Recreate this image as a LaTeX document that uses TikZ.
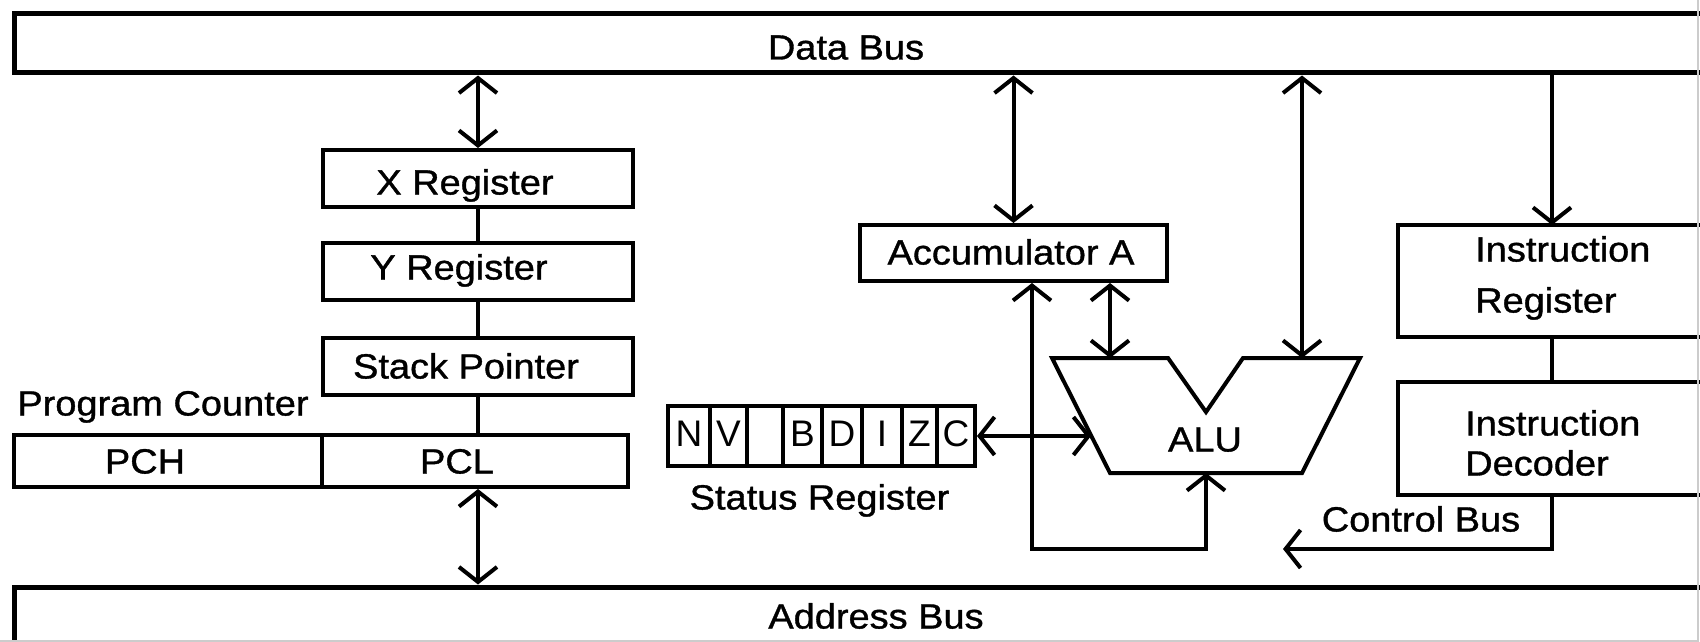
\documentclass[tikz,border=0pt]{standalone}
\usepackage{fontspec}
\setmainfont{Liberation Sans}
\newfontfamily\lblfont[FakeBold=1]{Liberation Sans}
\usetikzlibrary{arrows.meta}
% slightly widened lettering
\newcommand\wide[1]{\scalebox{1.085}[1]{#1}}
\tikzset{
  wire/.style={line width=4pt},
  bx/.style={draw, line width=4pt, inner sep=0pt},
  lbl/.style={inner sep=0pt, font=\lblfont\fontsize{35}{40}\selectfont, text height=25pt, text depth=0pt},
  flag/.style={inner sep=0pt, font=\fontsize{37}{40}\selectfont, text height=26.5pt, text depth=0pt},
  >={Straight Barb[length=15pt,width=38pt]},
}
\begin{document}
\begin{tikzpicture}[x=1pt,y=-1pt]
\useasboundingbox (0,0) rectangle (1700,642);
\fill[white] (0,0) rectangle (1700,642);

% buses
\node[bx, line width=5pt, minimum width=1706pt, minimum height=59pt] (db) at (867,43.5) {};
\node[lbl] (db-t) at (846,47) {\wide{Data Bus}};
\node[bx, line width=5pt, minimum width=1706pt, minimum height=73pt] (ab) at (867,623.5) {};
\node[lbl] (ab-t) at (876,616) {\wide{Address Bus}};

% index registers, stack pointer, program counter
\node[bx, minimum width=310pt, minimum height=57pt] (xr) at (478,178.5) {};
\node[lbl] (xr-t) at (465,182) {\wide{X Register}};
\node[bx, minimum width=310pt, minimum height=57pt] (yr) at (478,271.5) {};
\node[lbl] (yr-t) at (459,267) {\wide{Y Register}};
\node[bx, minimum width=310pt, minimum height=57pt] (sp) at (478,366.5) {};
\node[lbl] (sp-t) at (466,366) {\wide{Stack Pointer}};
\node[lbl] (pc-t) at (163,403) {\wide{Program Counter}};
\node[bx, minimum width=308pt, minimum height=52pt] (pch) at (168,461) {};
\node[lbl] (pch-t) at (145,461) {\wide{PCH}};
\node[bx, minimum width=306pt, minimum height=52pt] (pcl) at (475,461) {};
\node[lbl] (pcl-t) at (457,461) {\wide{PCL}};

% accumulator
\node[bx, minimum width=307pt, minimum height=56pt] (acc) at (1013.5,253) {};
\node[lbl] (acc-t) at (1011,252) {\wide{Accumulator A}};

% status register with its flag cells
\node[bx, minimum width=307pt, minimum height=60pt] (sr) at (821.5,436) {};
\foreach \x in {710,747,783,822,862,902,937}
  \draw[wire] (\x,406) -- (\x,466);
\foreach \c/\x in {N/689,V/728.5,B/802.5,D/842,I/882,Z/919.5,C/956}
  \node[flag] (flag-\c) at (\x,433) {\c};
\node[lbl] (sr-t) at (819.5,497) {\wide{Status Register}};

% ALU outline
\coordinate (a1) at (1052,358);
\coordinate (a2) at (1168,358);
\coordinate (a3) at (1206,412);
\coordinate (a4) at (1243,358);
\coordinate (a5) at (1360,358);
\coordinate (a6) at (1302,473);
\coordinate (a7) at (1110,473);
\draw[wire, line join=miter] (a1) -- (a2) -- (a3) -- (a4) -- (a5) -- (a6) -- (a7) -- cycle;
\node[lbl] (alu-t) at (1205,439) {\wide{ALU}};
\coordinate (aluA) at (1110,358);
\coordinate (aluB) at (1302,358);
\coordinate (aluL) at (1091,436);
\coordinate (aluO) at (1206,473);
\coordinate (fbL) at (1032,549);
\coordinate (fbR) at (1206,549);

% instruction register and decoder
\node[bx, minimum width=322pt, minimum height=112pt] (ir) at (1559,281) {};
\node[lbl, anchor=west] (ir-t1) at (1475,249) {\wide{Instruction}};
\node[lbl, anchor=west] (ir-t2) at (1475,300) {\wide{Register}};
\node[bx, minimum width=322pt, minimum height=113pt] (id) at (1559,438.5) {};
\node[lbl, anchor=west] (id-t1) at (1465,423) {\wide{Instruction}};
\node[lbl, anchor=west] (id-t2) at (1465,463) {\wide{Decoder}};
\coordinate (irx) at (1552,225);
\coordinate (cb) at (1283,549);
\node[lbl] (cb-t) at (1421,519) {\wide{Control Bus}};

% connectors
\draw[wire,<->] (db.south -| xr.north) -- (xr.north);
\draw[wire] (xr.south) -- (yr.north);
\draw[wire] (yr.south) -- (sp.north);
\draw[wire] (sp.south) -- (sp.south |- pcl.north);
\draw[wire,<->] (sp.south |- pcl.south) -- (sp.south |- ab.north);
\draw[wire,<->] (db.south -| acc.north) -- (acc.north);
\draw[wire,<->] (aluA |- acc.south) -- (aluA);
\draw[wire,<->] (db.south -| aluB) -- (aluB);
\draw[wire,<->] (sr.east) -- (aluL);
\draw[wire,<->] (fbL |- acc.south) -- (fbL) -- (fbR) -- (aluO);
\draw[wire,->] (db.south -| irx) -- (irx);
\draw[wire] (irx |- ir.south) -- (irx |- id.north);
\draw[wire,->] (irx |- id.south) -- (irx |- cb) -- (cb);

% faint outer frame edge
\draw[black!20, line width=1.5pt] (1698,0) -- (1698,641) -- (0,641);
\end{tikzpicture}
\end{document}
